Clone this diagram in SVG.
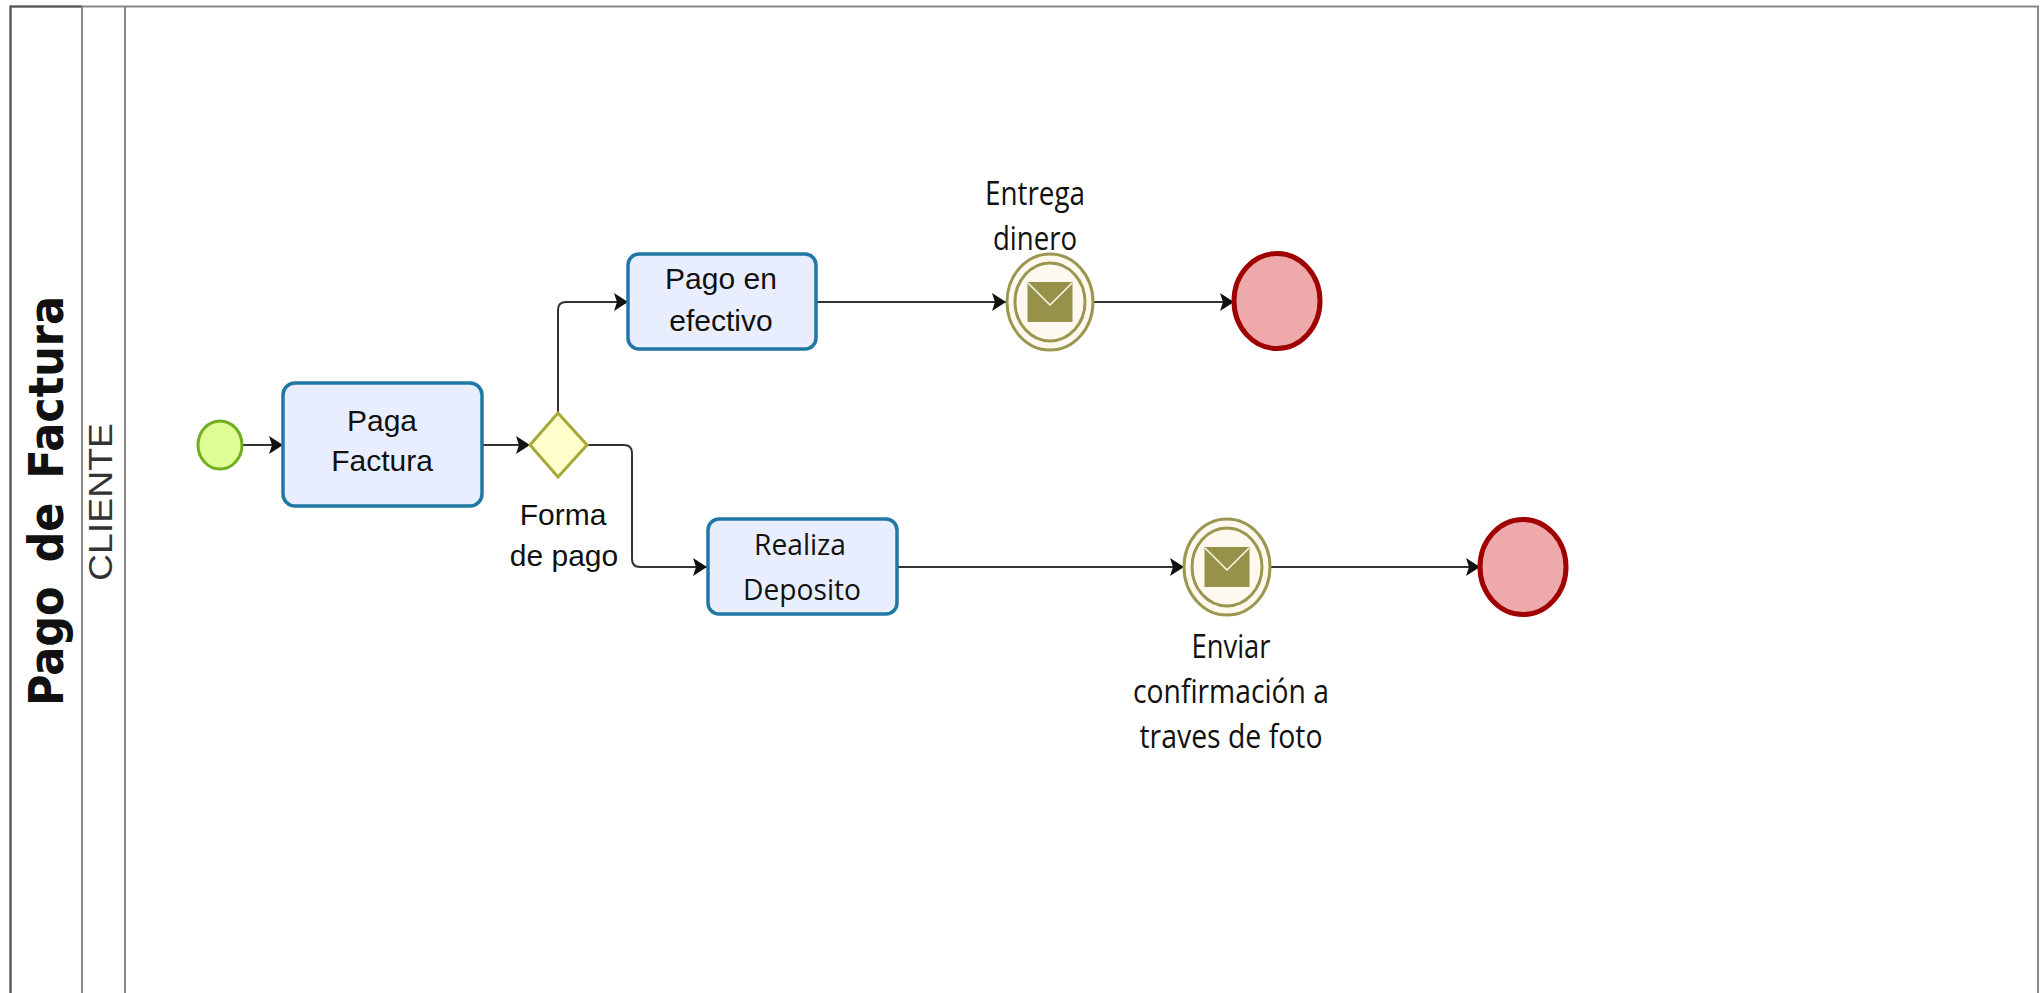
<svg xmlns="http://www.w3.org/2000/svg" width="2042" height="993" viewBox="0 0 2042 993">
<style>
.lane{fill:none;stroke:#888;stroke-width:2}
.task{fill:#e9eefe;stroke:#1f78a4;stroke-width:3.5}
.end{fill:#eea9aa;stroke:#a00000;stroke-width:5}
.ev{fill:#fdf9ee;stroke:#9b9650;stroke-width:3}
.c{fill:none;stroke:#333;stroke-width:2;marker-end:url(#a)}
.t{font-family:"Liberation Sans",Arial,sans-serif;font-size:30px;fill:#111;text-anchor:middle}
.l{font-family:"Open Sans","Noto Sans",sans-serif;font-size:32px;fill:#111;text-anchor:middle}
.m{font-family:"Open Sans","Noto Sans",sans-serif;font-size:29px;fill:#111;text-anchor:middle}
</style>
<defs>
<marker id="a" markerUnits="userSpaceOnUse" markerWidth="14" markerHeight="18" refX="14" refY="9" orient="auto"><path d="M0 0L14 9L0 18L3 9Z" fill="#111"/></marker>
<g id="env"><rect x="-22.500" y="-20" width="45" height="40" fill="#96924a"/><path d="M-22 -19L0 3L22 -19" fill="none" stroke="#fdf9ee" stroke-width="1.500"/></g>
</defs>
<rect width="2042" height="993" fill="#fff"/>
<g id="pool">
<path class="lane" d="M10.500 993V6.500H2038V993"/>
<path d="M10.500 993V6.500H82" fill="none" stroke="#555" stroke-width="2"/>
<path class="lane" d="M82 6.500V993M125 6.500V993"/>
<text transform="translate(63 706) rotate(-90)" font-family="DejaVu Sans,sans-serif" font-weight="700" font-size="48" word-spacing="10" fill="#111" textLength="410" lengthAdjust="spacingAndGlyphs">Pago de Factura</text>
<text transform="translate(112 581) rotate(-90)" font-family="Liberation Sans,sans-serif" font-size="33" fill="#333" textLength="158" lengthAdjust="spacingAndGlyphs">CLIENTE</text>
</g>
<g id="connectors">
<path class="c" d="M241 445H283"/>
<path class="c" d="M482 445H530"/>
<path class="c" d="M558 413V310Q558 302 566 302H628"/>
<path class="c" d="M587 445H624Q632 445 632 453V559Q632 567 640 567H707"/>
<path class="c" d="M816 302H1006"/>
<path class="c" d="M1094 302H1234"/>
<path class="c" d="M897 567H1184"/>
<path class="c" d="M1270 567H1480"/>
</g>
<g id="start"><ellipse cx="220" cy="445" rx="22" ry="24" fill="#dfff94" stroke="#6fae1e" stroke-width="3"/></g>
<g id="paga-factura"><rect class="task" x="283" y="383" width="199" height="123" rx="12"/><text class="t" x="382" y="431">Paga</text><text class="t" x="382" y="471">Factura</text></g>
<g id="gateway"><path d="M558 413L587 445L558 477L530 445Z" fill="#ffffcb" stroke="#a8a838" stroke-width="3"/><text class="t" x="563" y="525">Forma</text><text class="t" x="564" y="566">de pago</text></g>
<g id="pago-efectivo"><rect class="task" x="628" y="254" width="188" height="95" rx="11"/><text class="t" x="721" y="289">Pago en</text><text class="t" x="721" y="331">efectivo</text></g>
<g id="realiza-deposito"><rect class="task" x="708" y="519" width="189" height="95" rx="11"/><text class="m" x="800" y="555" textLength="92" lengthAdjust="spacingAndGlyphs">Realiza</text><text class="m" x="802" y="600" textLength="118" lengthAdjust="spacingAndGlyphs">Deposito</text></g>
<g id="event-entrega"><ellipse class="ev" cx="1050" cy="302" rx="43" ry="48"/><ellipse class="ev" cx="1050" cy="302" rx="35" ry="39"/><use href="#env" x="1050" y="302"/><text class="l" x="1035" y="205" textLength="100" lengthAdjust="spacingAndGlyphs">Entrega</text><text class="l" x="1035" y="250" textLength="84" lengthAdjust="spacingAndGlyphs">dinero</text></g>
<g id="end-1"><ellipse class="end" cx="1277" cy="301" rx="43" ry="47.500"/></g>
<g id="event-enviar"><ellipse class="ev" cx="1227" cy="567" rx="43" ry="48"/><ellipse class="ev" cx="1227" cy="567" rx="35" ry="39"/><use href="#env" x="1227" y="567"/><text class="l" x="1231" y="658" textLength="79" lengthAdjust="spacingAndGlyphs">Enviar</text><text class="l" x="1231" y="703" textLength="196" lengthAdjust="spacingAndGlyphs">confirmación a</text><text class="l" x="1231" y="748" textLength="183" lengthAdjust="spacingAndGlyphs">traves de foto</text></g>
<g id="end-2"><ellipse class="end" cx="1523" cy="567" rx="43" ry="47.500"/></g>
</svg>
